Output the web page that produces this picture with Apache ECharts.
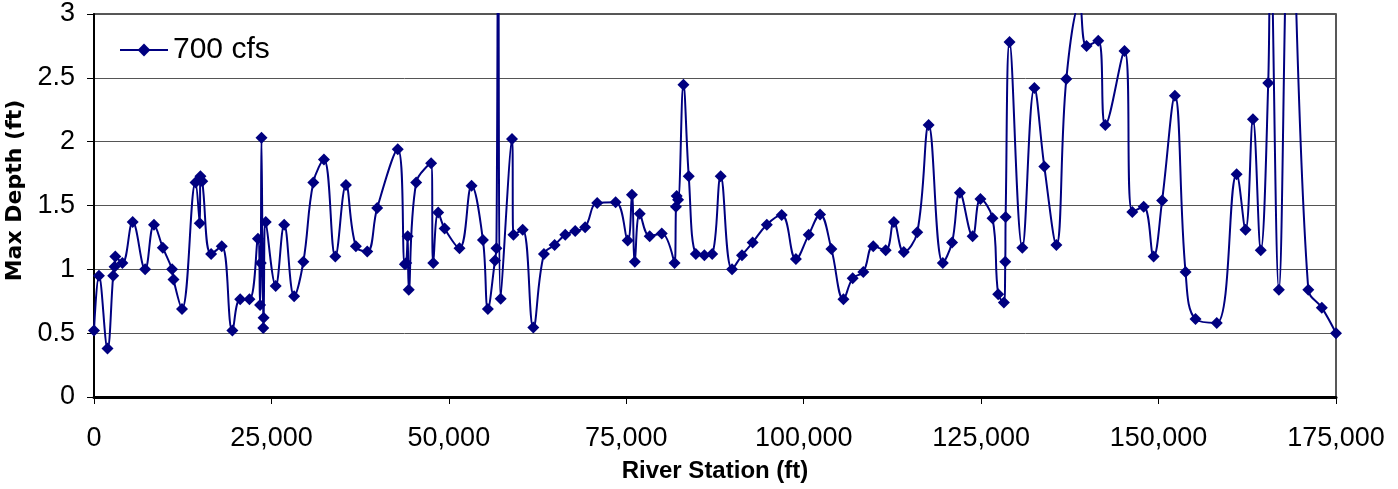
<!DOCTYPE html>
<html>
<head>
<meta charset="utf-8">
<script src="https://cdn.jsdelivr.net/npm/echarts@6/dist/echarts.min.js"></script>
<style>
html,body{margin:0;padding:0;background:#fff;}
#chart{width:1398px;height:489px;}
</style>
</head>
<body>
<div id="chart"></div>
<script>
// River station (ft)
const stations = [
  0, 700, 1900, 2700, 2900, 3000, 4000, 5450, 7200, 8450,
  9700, 11000, 11200, 12400, 14300, 14900, 15000, 15250, 16500, 18000,
  19500, 20600, 21900, 23100, 23400, 23500, 23600, 23850, 23900, 24200,
  25600, 26800, 28200, 29500, 30900, 32400, 34000, 35500, 36900, 38500,
  39900, 42800, 43800, 44000, 44200, 44350, 45400, 47500, 47800, 48500,
  49400, 51500, 53200, 54800, 55500, 56500, 56700, 56950, 57300, 58900,
  59100, 60400, 61900, 63400, 64900, 66400, 67800, 69200, 70900, 73500,
  75200, 75800, 76200, 76900, 78300, 80000, 81800, 82000, 82100, 82300,
  83050, 83800, 84800, 86000, 87100, 88300, 89900, 91300, 92800, 94800,
  96900, 98900, 100700, 102300, 103900, 105600, 106900, 108400, 109800, 111550,
  112700, 114100, 116000, 117600, 119600, 120900, 122000, 123800, 124900, 126600,
  127400, 128200, 128400, 128450, 129000, 130800, 132500, 133900, 135600, 137000,
  138900, 139850, 141500, 142500, 145200, 146300, 147900, 149300, 150500, 152300,
  153800, 155200, 158200, 161000, 162250, 163300, 164400, 165450, 165750, 166950,
  168500, 171100, 173000, 175000
];
// Max depth (ft), 700 cfs
const depth700 = [
  0.52, 0.95, 0.38, 0.95, 1.02, 1.10, 1.05, 1.37, 1.00, 1.35,
  1.17, 1.00, 0.92, 0.69, 1.68, 1.36, 1.73, 1.69, 1.12, 1.18,
  0.52, 0.765, 0.765, 1.24, 0.72, 1.05, 2.03, 0.54, 0.62, 1.37,
  0.87, 1.35, 0.79, 1.06, 1.68, 1.86, 1.10, 1.66, 1.18, 1.14,
  1.48, 1.94, 1.04, 1.05, 1.26, 0.84, 1.68, 1.83, 1.05, 1.445,
  1.32, 1.165, 1.655, 1.23, 0.69, 1.07, 1.165, 3.6, 0.77, 2.02,
  1.27, 1.31, 0.545, 1.12, 1.19, 1.27, 1.30, 1.33, 1.52, 1.525,
  1.225, 1.585, 1.06, 1.435, 1.26, 1.28, 1.05, 1.49, 1.575, 1.545,
  2.445, 1.73, 1.12, 1.11, 1.12, 1.73, 1.00, 1.11, 1.21, 1.35,
  1.425, 1.08, 1.27, 1.43, 1.16, 0.765, 0.93, 0.98, 1.18, 1.15,
  1.37, 1.135, 1.29, 2.13, 1.05, 1.21, 1.60, 1.26, 1.55, 1.40,
  0.805, 0.74, 1.06, 1.41, 2.78, 1.17, 2.42, 1.805, 1.19, 2.49,
  3.08, 2.75, 2.79, 2.13, 2.71, 1.45, 1.49, 1.10, 1.54, 2.36,
  0.98, 0.61, 0.58, 1.745, 1.31, 2.175, 1.15, 2.46, 3.6, 0.84,
  4.0, 0.84, 0.70, 0.50
];
const seriesName = '700 cfs';
const xTicks = [0, 25000, 50000, 75000, 100000, 125000, 150000, 175000];
const xTickLabels = ['0', '25,000', '50,000', '75,000', '100,000', '125,000', '150,000', '175,000'];
const yTicks = [0, 0.5, 1, 1.5, 2, 2.5, 3];
const yTickLabels = ['0', '0.5', '1', '1.5', '2', '2.5', '3'];
const xTitle = 'River Station (ft)';
const yTitle = 'Max Depth (ft)';

const points = stations.map((s, i) => [s, depth700[i]]);
const sans = "'Liberation Sans', Arial, sans-serif";

const chart = echarts.init(document.getElementById('chart'), null, {renderer: 'canvas'});
chart.setOption({
  animation: false,
  backgroundColor: '#fff',
  grid: {
    left: 94, right: 62, top: 14, bottom: 92,
    containLabel: false, outerBoundsMode: 'none',
    show: true, borderColor: '#222', borderWidth: 1.5, backgroundColor: 'transparent'
  },
  legend: {
    data: [seriesName],
    left: 114, top: 30,
    itemWidth: 48, itemHeight: 16, itemGap: 0,
    textStyle: {fontFamily: sans, fontSize: 30, color: '#000'}
  },
  xAxis: {
    type: 'value', min: 0, max: 175000, interval: 25000,
    name: xTitle, nameLocation: 'middle', nameGap: 62,
    nameTextStyle: {fontFamily: sans, fontWeight: 'bold', fontSize: 24, color: '#000'},
    axisLine: {show: true, lineStyle: {color: '#000', width: 3}},
    axisTick: {show: true, length: 7, lineStyle: {color: '#000', width: 1}},
    axisLabel: {
      margin: 28, fontFamily: sans, fontSize: 27, color: '#000',
      formatter: v => { const k = xTicks.indexOf(v); return k >= 0 ? xTickLabels[k] : ''; }
    },
    splitLine: {show: false}
  },
  yAxis: {
    type: 'value', min: 0, max: 3, interval: 0.5,
    name: yTitle, nameLocation: 'middle', nameGap: 64, nameRotate: 90,
    nameTextStyle: {fontFamily: "'DejaVu Sans', sans-serif", fontWeight: 'bold', fontSize: 22, color: '#000', padding: [0, 0, 0, 30]},
    axisLine: {show: true, lineStyle: {color: '#000', width: 2}},
    axisTick: {show: true, length: 7, lineStyle: {color: '#000', width: 1}},
    axisLabel: {
      margin: 19, fontFamily: sans, fontSize: 27, color: '#000',
      formatter: v => { const k = yTicks.findIndex(t => Math.abs(t - v) < 1e-9); return k >= 0 ? yTickLabels[k] : ''; }
    },
    splitLine: {show: true, lineStyle: {color: '#555', width: 1}}
  },
  series: [{
    name: seriesName,
    type: 'line',
    data: points,
    smooth: 0.4,
    clip: true,
    symbol: 'diamond',
    symbolSize: [12, 12],
    showAllSymbol: true,
    lineStyle: {color: '#000080', width: 2},
    itemStyle: {color: '#000080'}
  }]
});
</script>
</body>
</html>
